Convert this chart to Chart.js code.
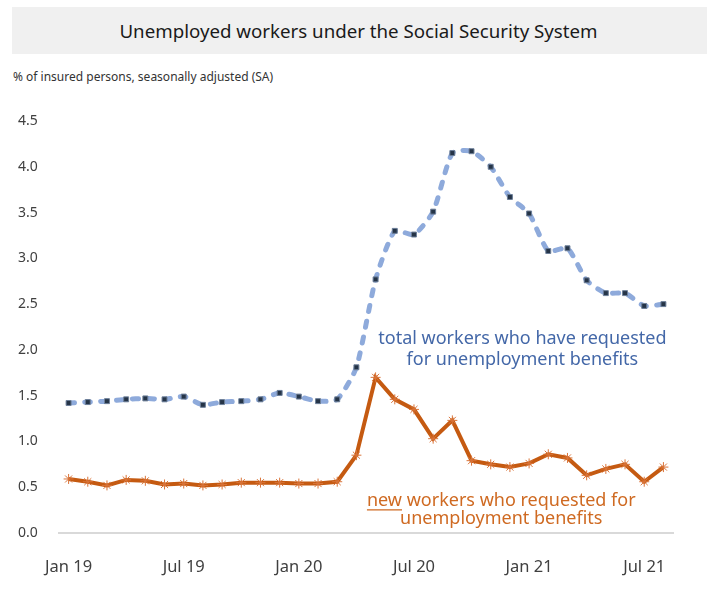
<!DOCTYPE html>
<html lang="en">
<head>
    <meta charset="UTF-8">
    <title>Unemployed workers under the Social Security System</title>
    <script src="https://cdn.jsdelivr.net/npm/chart.js"></script>
    <style>
        body {
            margin: 0;
            background: #ffffff;
            font-family: "Noto Sans", sans-serif;
            width: 707px;
            height: 590px;
            position: relative;
            overflow: hidden;
        }
        #banner {
            position: absolute;
            left: 12px;
            top: 7px;
            width: 695px;
            height: 47px;
            background: #f0f0f0;
            color: #1a1a1a;
            font-size: 18.7px;
            line-height: 47px;
            text-align: center;
            text-indent: -2px;
        }
        #unit {
            position: absolute;
            left: 13px;
            top: 68px;
            font-size: 12px;
            color: #333;
        }
        #wrap {
            position: absolute;
            left: 0;
            top: 97px;
            width: 707px;
            height: 493px;
        }
    </style>
</head>
<body>
    <div id="banner">Unemployed workers under the Social Security System</div>
    <div id="unit">% of insured persons, seasonally adjusted (SA)</div>
    <div id="wrap"><canvas id="chart"></canvas></div>

    <script>
        // months Jan 19 .. Aug 21
        const months = [
            'Jan 19', 'Feb 19', 'Mar 19', 'Apr 19', 'May 19', 'Jun 19', 'Jul 19', 'Aug 19', 'Sep 19', 'Oct 19', 'Nov 19', 'Dec 19',
            'Jan 20', 'Feb 20', 'Mar 20', 'Apr 20', 'May 20', 'Jun 20', 'Jul 20', 'Aug 20', 'Sep 20', 'Oct 20', 'Nov 20', 'Dec 20',
            'Jan 21', 'Feb 21', 'Mar 21', 'Apr 21', 'May 21', 'Jun 21', 'Jul 21', 'Aug 21'
        ];
        // only these months get a tick label
        const shownTicks = ['Jan 19', 'Jul 19', 'Jan 20', 'Jul 20', 'Jan 21', 'Jul 21'];

        // total workers who have requested unemployment benefits (% SA)
        const totalWorkers = [
            1.42, 1.43, 1.44, 1.46, 1.47, 1.46, 1.49, 1.40, 1.43, 1.44, 1.46, 1.53,
            1.49, 1.44, 1.46, 1.81, 2.77, 3.30, 3.26, 3.51, 4.15, 4.17, 4.00, 3.67,
            3.49, 3.08, 3.11, 2.76, 2.62, 2.62, 2.48, 2.50
        ];
        // new workers who requested unemployment benefits (% SA)
        const newWorkers = [
            0.59, 0.56, 0.52, 0.58, 0.57, 0.53, 0.54, 0.52, 0.53, 0.55, 0.55, 0.55,
            0.54, 0.54, 0.56, 0.85, 1.70, 1.46, 1.35, 1.03, 1.23, 0.79, 0.75, 0.72,
            0.76, 0.86, 0.82, 0.63, 0.70, 0.75, 0.56, 0.72
        ];

        const FONT = '"Noto Sans", sans-serif';

        // text notes next to the two lines
        const notesPlugin = {
            id: 'notes',
            afterDatasetsDraw(chart) {
                const c = chart.ctx;
                const x = chart.scales.x, y = chart.scales.y;
                c.save();
                c.font = '18px ' + FONT;
                c.textAlign = 'center';
                c.textBaseline = 'middle';

                c.fillStyle = '#4468a8';
                const bx = x.getPixelForValue(23.65);
                c.fillText('total workers who have requested', bx, y.getPixelForValue(2.12));
                c.fillText('for unemployment benefits', bx, y.getPixelForValue(1.89));

                c.fillStyle = '#cf6a22';
                const ox = x.getPixelForValue(22.55);
                const l1 = 'new workers who requested for';
                const oy1 = y.getPixelForValue(0.35);
                c.fillText(l1, ox, oy1);
                c.fillText('unemployment benefits', ox, y.getPixelForValue(0.15));
                // underline "new"
                const w = c.measureText(l1).width;
                const wn = c.measureText('new').width;
                const sx = ox - w / 2;
                c.strokeStyle = '#cf6a22';
                c.lineWidth = 1.3;
                c.beginPath();
                c.moveTo(sx, oy1 + 9);
                c.lineTo(sx + wn, oy1 + 9);
                c.stroke();
                c.restore();
            }
        };

        const ctx = document.getElementById('chart').getContext('2d');
        new Chart(ctx, {
            type: 'line',
            data: {
                labels: months,
                datasets: [{
                    label: 'total workers who have requested for unemployment benefits',
                    data: totalWorkers,
                    borderColor: '#8eaadb',
                    borderWidth: 5,
                    borderDash: [6, 10],
                    borderCapStyle: 'round',
                    tension: 0.2,
                    pointStyle: 'rect',
                    pointRadius: 3.5,
                    pointBackgroundColor: '#253447',
                    pointBorderColor: '#6d7f99',
                    pointBorderWidth: 1
                }, {
                    label: 'new workers who requested for unemployment benefits',
                    data: newWorkers,
                    borderColor: '#c55a11',
                    borderWidth: 4,
                    tension: 0,
                    pointStyle: 'star',
                    pointRadius: 5,
                    pointBorderColor: '#d9743a',
                    pointBackgroundColor: '#d9743a',
                    pointBorderWidth: 1
                }]
            },
            options: {
                responsive: true,
                maintainAspectRatio: false,
                animation: false,
                layout: {
                    padding: { top: 24, left: 18, right: 34, bottom: 0 }
                },
                plugins: {
                    legend: { display: false },
                    tooltip: { enabled: false }
                },
                scales: {
                    x: {
                        offset: true,
                        grid: { display: false },
                        border: { display: true, color: '#d9d9d9', width: 2 },
                        ticks: {
                            autoSkip: false,
                            maxRotation: 0,
                            padding: 16,
                            color: '#404040',
                            font: { family: FONT, size: 16.5 },
                            callback: function (v) {
                                const m = months[v];
                                return shownTicks.includes(m) ? m : '';
                            }
                        },
                        afterFit(s) { s.height = 57; }
                    },
                    y: {
                        min: 0,
                        max: 4.5,
                        grid: { display: false },
                        border: { display: false },
                        ticks: {
                            stepSize: 0.5,
                            crossAlign: 'far',
                            color: '#404040',
                            font: { family: FONT, size: 14 },
                            callback: v => v.toFixed(1)
                        },
                        afterFit(s) { s.width = 41; }
                    }
                }
            },
            plugins: [notesPlugin]
        });
    </script>
</body>
</html>
